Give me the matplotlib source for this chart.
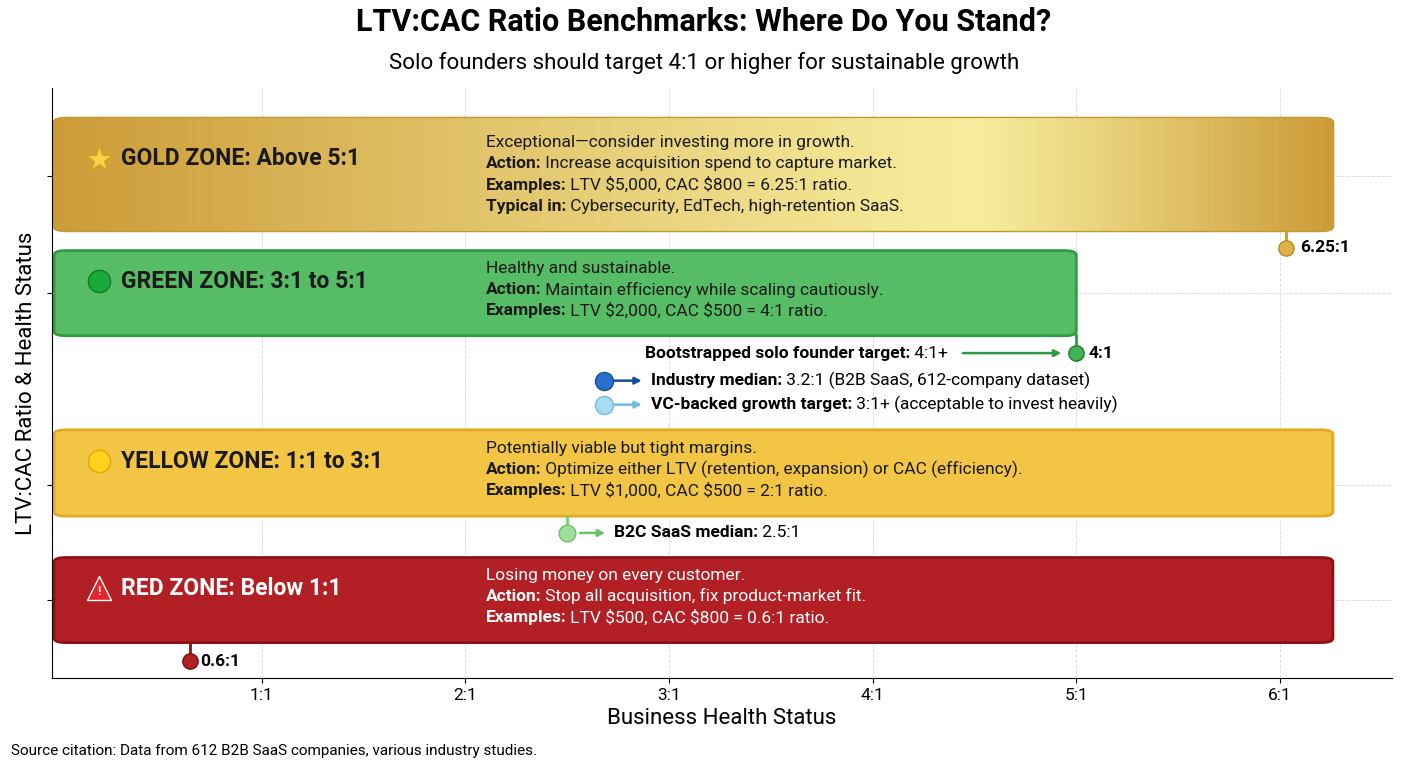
import matplotlib
matplotlib.use("Agg")
import matplotlib.pyplot as plt
import numpy as np
from matplotlib.patches import FancyBboxPatch

plt.rcParams['font.family'] = ['Roboto', 'DejaVu Sans']

zones = ["GOLD ZONE: Above 5:1", "GREEN ZONE: 3:1 to 5:1", "YELLOW ZONE: 1:1 to 3:1", "RED ZONE: Below 1:1"]
zone_end = [6.26, 5.0, 6.26, 6.26]
zone_y = [3.55, 2.56, 1.06, 0.0]
zone_h = [0.94, 0.71, 0.72, 0.71]
zone_face = ["#dcb04a", "#56bd66", "#f2c544", "#b21f24"]
zone_edge = ["#c49a30", "#2f9a3f", "#e0aa25", "#8c1216"]
zone_txtcol = ["#1a1a1a", "#1a1a1a", "#1a1a1a", "#ffffff"]
zone_lines = [
    [("", "Exceptional\u2014consider investing more in growth."),
     ("Action:", " Increase acquisition spend to capture market."),
     ("Examples:", " LTV \\$5,000, CAC \\$800 = 6.25:1 ratio."),
     ("Typical in:", " Cybersecurity, EdTech, high-retention SaaS.")],
    [("", "Healthy and sustainable."),
     ("Action:", " Maintain efficiency while scaling cautiously."),
     ("Examples:", " LTV \\$2,000, CAC \\$500 = 4:1 ratio.")],
    [("", "Potentially viable but tight margins."),
     ("Action:", " Optimize either LTV (retention, expansion) or CAC (efficiency)."),
     ("Examples:", " LTV \\$1,000, CAC \\$500 = 2:1 ratio.")],
    [("", "Losing money on every customer."),
     ("Action:", " Stop all acquisition, fix product-market fit."),
     ("Examples:", " LTV \\$500, CAC \\$800 = 0.6:1 ratio.")],
]
xticks = [1, 2, 3, 4, 5, 6]
xticklabels = ["1:1", "2:1", "3:1", "4:1", "5:1", "6:1"]

FS = 12.5
fig = plt.figure(figsize=(14.08, 7.68), dpi=100)
ax = fig.add_axes([0.0369, 0.1172, 0.9517, 0.768])
ax.set_xlim(-0.03, 6.55)
ax.set_ylim(-0.65, 4.27)
ax.set_xticks(xticks)
ax.set_xticklabels(xticklabels, fontsize=12.5)
ax.set_yticks([0.0, 0.96, 2.56, 3.54])
ax.set_yticklabels([])
ax.grid(True, color="#dddddd", linestyle="--", linewidth=0.7)
ax.set_axisbelow(True)
for s in ["top", "right"]:
    ax.spines[s].set_visible(False)
ax.set_xlabel("Business Health Status", fontsize=16)
ax.set_ylabel("LTV:CAC Ratio & Health Status", fontsize=16)

x0 = -0.02
for i, name in enumerate(zones):
    y0 = zone_y[i] - zone_h[i] / 2
    p = FancyBboxPatch((x0, y0), zone_end[i] - x0, zone_h[i],
                       boxstyle="round,pad=0,rounding_size=0.06", mutation_aspect=0.6,
                       facecolor=zone_face[i], edgecolor=zone_edge[i], linewidth=2, zorder=2)
    ax.add_patch(p)
    if i == 0:
        xs = np.linspace(0, 1, 256)
        grad = np.where(xs < 0.72, (0.72 - xs) / 0.72, (xs - 0.72) / 0.28)
        grad = np.clip(grad, 0, 1) ** 1.1
        c_light = np.array([0.97, 0.93, 0.62])
        c_dark = np.array([0.80, 0.61, 0.22])
        img = c_light[None, :] * (1 - grad[:, None]) + c_dark[None, :] * grad[:, None]
        img = np.tile(img[None, :, :], (20, 1, 1))
        im = ax.imshow(img, extent=(x0, zone_end[i], y0, y0 + zone_h[i]), aspect="auto", zorder=2.1)
        im.set_clip_path(p)
    ix, iy = 0.2, zone_y[i] + (0.13 if i == 0 else 0.1)
    if i == 0:
        ax.plot(ix, iy, marker="*", ms=20, color="#f7d24a", mec="#d9a520", zorder=4)
    elif i == 1:
        ax.plot(ix, iy, marker="o", ms=16, color="#19a83a", mec="#0d7a25", zorder=4)
    elif i == 2:
        ax.plot(ix, iy, marker="o", ms=16, color="#ffd21f", mec="#e0a800", zorder=4)
    else:
        ax.plot(ix, iy, marker="^", ms=17, color="#e0262a", mec="#ffffff", zorder=4)
        ax.text(ix, iy - 0.03, "!", color="white", fontsize=9, fontweight="bold", ha="center", va="center", zorder=5)
    ax.text(0.31, iy, name, fontsize=16.5, fontweight="bold", color=zone_txtcol[i], va="center", zorder=5)
    n = len(zone_lines[i])
    for j, (b, r) in enumerate(zone_lines[i]):
        yy = zone_y[i] + (n - 1) / 2 * 0.177 - j * 0.177 + (0.03 if i != 0 else 0)
        t = ax.text(2.1, yy, b, fontsize=FS, fontweight="bold", color=zone_txtcol[i], va="center", zorder=5)
        ax.annotate(r, xy=(1, 0.5), xycoords=t, va="center", fontsize=FS,
                    color=zone_txtcol[i], zorder=5)

ax.plot([6.03, 6.03], [3.08, 2.94], color="#c49a30", lw=2, zorder=3)
ax.plot(6.03, 2.94, "o", ms=11, color="#dcb04a", mec="#b58a25", zorder=4)
ax.text(6.1, 2.94, "6.25:1", fontsize=FS, fontweight="bold", va="center")
ax.plot([5.0, 5.0], [2.21, 2.06], color="#2f9a3f", lw=2, zorder=3)
ax.plot(5.0, 2.06, "o", ms=11, color="#45b155", mec="#237a30", zorder=4)
ax.text(5.06, 2.06, "4:1", fontsize=FS, fontweight="bold", va="center")
t = ax.text(2.88, 2.06, "Bootstrapped solo founder target:", fontsize=FS, fontweight="bold", va="center")
ax.annotate(" 4:1+", xy=(1, 0.5), xycoords=t, va="center", fontsize=FS)
ax.annotate("", xy=(4.94, 2.06), xytext=(4.43, 2.06),
            arrowprops=dict(arrowstyle="-|>", color="#2f9a3f", lw=1.8))
ax.plot(2.68, 1.83, "o", ms=13, color="#2a6fc9", mec="#174e9c", zorder=4)
ax.annotate("", xy=(2.88, 1.83), xytext=(2.72, 1.83),
            arrowprops=dict(arrowstyle="-|>", color="#174e9c", lw=1.8))
t = ax.text(2.91, 1.83, "Industry median:", fontsize=FS, fontweight="bold", va="center")
ax.annotate(" 3.2:1 (B2B SaaS, 612-company dataset)", xy=(1, 0.5), xycoords=t, va="center", fontsize=FS)
ax.plot(2.68, 1.63, "o", ms=13, color="#a8dcf2", mec="#6fbde0", zorder=4)
ax.annotate("", xy=(2.88, 1.63), xytext=(2.72, 1.63),
            arrowprops=dict(arrowstyle="-|>", color="#6fbde0", lw=1.8))
t = ax.text(2.91, 1.63, "VC-backed growth target:", fontsize=FS, fontweight="bold", va="center")
ax.annotate(" 3:1+ (acceptable to invest heavily)", xy=(1, 0.5), xycoords=t, va="center", fontsize=FS)
ax.plot([2.5, 2.5], [0.70, 0.56], color="#7ccf7e", lw=2, zorder=3)
ax.plot(2.5, 0.56, "o", ms=12, color="#9ee09a", mec="#6cc06c", zorder=4)
ax.annotate("", xy=(2.7, 0.56), xytext=(2.55, 0.56),
            arrowprops=dict(arrowstyle="-|>", color="#6cc06c", lw=1.8))
t = ax.text(2.73, 0.56, "B2C SaaS median:", fontsize=FS, fontweight="bold", va="center")
ax.annotate(" 2.5:1", xy=(1, 0.5), xycoords=t, va="center", fontsize=FS)
ax.plot([0.65, 0.65], [-0.36, -0.51], color="#8c1216", lw=2, zorder=3)
ax.plot(0.65, -0.51, "o", ms=11, color="#b21f24", mec="#7a0d10", zorder=4)
ax.text(0.7, -0.51, "0.6:1", fontsize=FS, fontweight="bold", va="center")

fig.text(0.5, 0.972, "LTV:CAC Ratio Benchmarks: Where Do You Stand?", ha="center", va="center",
         fontsize=22, fontweight="bold")
fig.text(0.5, 0.918, "Solo founders should target 4:1 or higher for sustainable growth", ha="center",
         va="center", fontsize=16)
fig.text(0.008, 0.022, "Source citation: Data from 612 B2B SaaS companies, various industry studies.",
         fontsize=11, va="center")
fig.savefig("out.png", dpi=100)
